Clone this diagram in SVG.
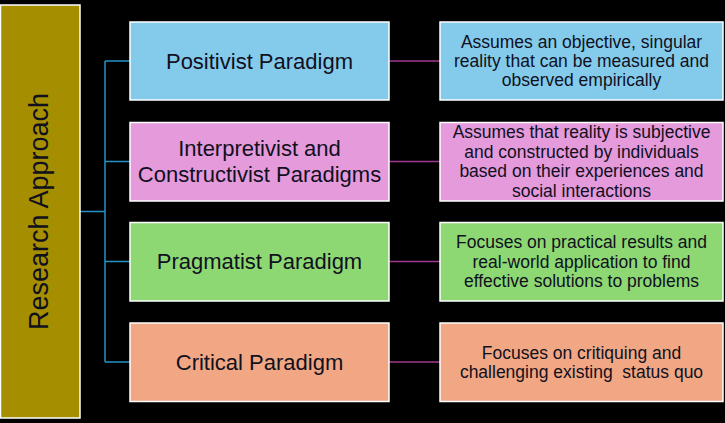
<svg xmlns="http://www.w3.org/2000/svg" width="725" height="423" viewBox="0 0 725 423">
<style>
.box{stroke:#ffffff;stroke-width:1.5}
.t{font-family:"Liberation Sans",Arial,sans-serif;fill:#10101e;text-anchor:middle;dominant-baseline:central}
.mid{font-size:22px}
.desc{font-size:17.5px}
.blue{fill:#84cbeb}
.pink{fill:#e49adb}
.green{fill:#8ed873}
.orange{fill:#f1a784}
.c1{stroke:#2592c8;stroke-width:1.5;fill:none}
.c2{stroke:#a0388f;stroke-width:1.5;fill:none}
</style>
<rect width="725" height="423" fill="#000000"/>
<g id="connectors">
<path class="c1" d="M80,211.5 H105 M105,61 V362 M105,61 H130 M105,161.5 H130 M105,261.5 H130 M105,362 H130"/>
<path class="c2" d="M389,61 H440 M389,161.5 H440 M389,261.5 H440 M389,362 H440"/>
</g>
<g id="root">
<rect class="box" x="0.5" y="5" width="79.5" height="413" fill="#a58f00"/>
<text class="t" x="0" y="0" transform="translate(39,211.5) rotate(-90)" style="font-size:27px;fill:#10101e">Research Approach</text>
</g>
<g id="positivist">
<rect class="box blue" x="130" y="22" width="259" height="78"/>
<text class="t mid" x="259.5" y="61">Positivist Paradigm</text>
</g>
<g id="interpretivist">
<rect class="box pink" x="130" y="122.5" width="259" height="78.5"/>
<text class="t mid" x="259.5" y="148">Interpretivist and</text>
<text class="t mid" x="259.5" y="174">Constructivist Paradigms</text>
</g>
<g id="pragmatist">
<rect class="box green" x="130" y="222.5" width="259" height="78.5"/>
<text class="t mid" x="259.5" y="261.5">Pragmatist Paradigm</text>
</g>
<g id="critical">
<rect class="box orange" x="130" y="323" width="259" height="78.5"/>
<text class="t mid" x="259.5" y="362">Critical Paradigm</text>
</g>
<g id="positivist-desc">
<rect class="box blue" x="440" y="22" width="283" height="78"/>
<text class="t desc" x="581.5" y="42">Assumes an objective, singular</text>
<text class="t desc" x="581.5" y="61">reality that can be measured and</text>
<text class="t desc" x="581.5" y="80">observed empirically</text>
</g>
<g id="interpretivist-desc">
<rect class="box pink" x="440" y="122.5" width="283" height="78.5"/>
<text class="t desc" x="581.5" y="132">Assumes that reality is subjective</text>
<text class="t desc" x="581.5" y="151.5">and constructed by individuals</text>
<text class="t desc" x="581.5" y="171">based on their experiences and</text>
<text class="t desc" x="581.5" y="190.5">social interactions</text>
</g>
<g id="pragmatist-desc">
<rect class="box green" x="440" y="222.5" width="283" height="78.5"/>
<text class="t desc" x="581.5" y="242">Focuses on practical results and</text>
<text class="t desc" x="581.5" y="261.5">real-world application to find</text>
<text class="t desc" x="581.5" y="281">effective solutions to problems</text>
</g>
<g id="critical-desc">
<rect class="box orange" x="440" y="323" width="283" height="78.5"/>
<text class="t desc" x="581.5" y="352.5">Focuses on critiquing and</text>
<text class="t desc" x="581.5" y="372" xml:space="preserve" style="white-space:pre">challenging existing  status quo</text>
</g>
</svg>
